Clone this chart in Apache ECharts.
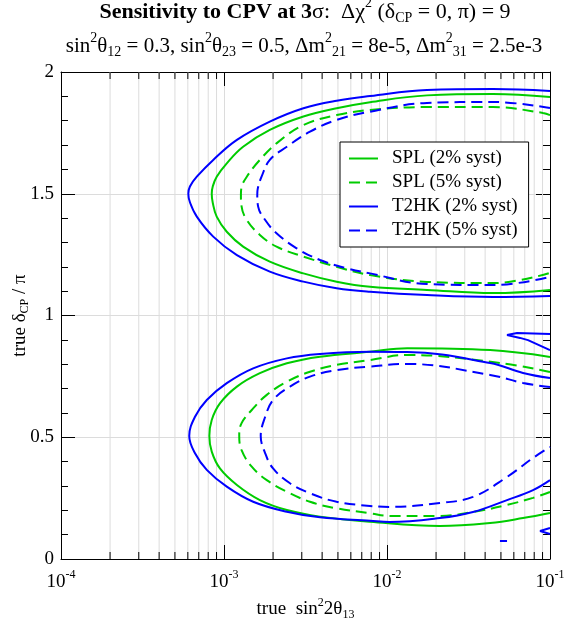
<!DOCTYPE html>
<html><head><meta charset="utf-8">
<script src="https://cdn.jsdelivr.net/npm/echarts@6/dist/echarts.min.js"></script>
<style>html,body{margin:0;padding:0;background:#fff}#c{width:567px;height:626px}</style>
</head><body><div id="c"></div><script>
// ---- data (x = sin^2 2theta13, y = delta_CP / pi) ----
const legendNames = ['SPL (2% syst)', 'SPL (5% syst)', 'T2HK (2% syst)', 'T2HK (5% syst)'];
const yTicks = [0, 0.5, 1, 1.5, 2];
const xMinorTicks = [2e-4,3e-4,4e-4,5e-4,6e-4,7e-4,8e-4,9e-4,
                     2e-3,3e-3,4e-3,5e-3,6e-3,7e-3,8e-3,9e-3,
                     2e-2,3e-2,4e-2,5e-2,6e-2,7e-2,8e-2,9e-2];

const splUpper2 = [[0.1,1.897],[0.0447,1.910],[0.0176,1.904],[7.87e-3,1.876],[4.91e-3,1.851],[3.07e-3,1.817],[1.91e-3,1.762],[1.31e-3,1.693],[1.04e-3,1.625],[9.02e-4,1.570],[8.53e-4,1.530],[8.41e-4,1.500],[8.53e-4,1.463],[9.02e-4,1.406],[1.04e-3,1.344],[1.31e-3,1.283],[1.91e-3,1.221],[3.07e-3,1.173],[4.91e-3,1.139],[7.87e-3,1.118],[0.0176,1.105],[0.0447,1.092],[0.1,1.105]];
const splLower2 = [[0.1,0.830],[0.0429,0.858],[0.0133,0.866],[7.87e-3,0.851],[3.88e-3,0.831],[2.43e-3,0.804],[1.66e-3,0.763],[1.20e-3,0.708],[9.44e-4,0.639],[8.41e-4,0.571],[8.13e-4,0.505],[8.41e-4,0.441],[9.44e-4,0.372],[1.20e-3,0.304],[1.66e-3,0.242],[2.43e-3,0.201],[3.88e-3,0.174],[7.87e-3,0.153],[0.0211,0.136],[0.0429,0.148],[0.0683,0.168],[0.1,0.189]];
const splUpper5 = [[0.1,1.823],[0.0906,1.832],[0.0447,1.856],[0.0176,1.856],[7.87e-3,1.844],[4.91e-3,1.823],[3.07e-3,1.782],[2.10e-3,1.707],[1.66e-3,1.639],[1.38e-3,1.570],[1.28e-3,1.525],[1.27e-3,1.497],[1.28e-3,1.450],[1.38e-3,1.392],[1.66e-3,1.331],[2.10e-3,1.283],[3.07e-3,1.242],[4.91e-3,1.200],[7.87e-3,1.166],[0.0176,1.138],[0.0447,1.133],[0.1,1.175]];
const splLower5 = [[0.1,0.768],[0.0493,0.805],[0.0133,0.838],[7.87e-3,0.817],[4.91e-3,0.797],[3.37e-3,0.769],[2.43e-3,0.728],[1.83e-3,0.674],[1.48e-3,0.612],[1.28e-3,0.557],[1.24e-3,0.505],[1.28e-3,0.448],[1.48e-3,0.379],[1.83e-3,0.324],[2.43e-3,0.276],[3.37e-3,0.235],[4.91e-3,0.208],[7.87e-3,0.188],[0.0104,0.177],[0.0211,0.177],[0.0337,0.193],[0.0545,0.222],[0.0787,0.251],[0.1,0.275]];
const t2hkUpper2 = [[0.1,1.922],[0.0447,1.930],[0.0176,1.926],[7.87e-3,1.901],[4.91e-3,1.882],[3.07e-3,1.851],[1.91e-3,1.796],[1.20e-3,1.721],[8.59e-4,1.639],[6.81e-4,1.570],[6.18e-4,1.530],[6.04e-4,1.500],[6.18e-4,1.465],[6.81e-4,1.406],[8.59e-4,1.324],[1.20e-3,1.248],[1.91e-3,1.180],[3.07e-3,1.139],[4.91e-3,1.112],[7.87e-3,1.098],[0.0176,1.084],[0.0447,1.076],[0.1,1.080]];
const t2hkLower2 = [[0.1,0.743],[0.0683,0.764],[0.0429,0.805],[0.0133,0.850],[7.87e-3,0.851],[3.88e-3,0.842],[2.43e-3,0.824],[1.51e-3,0.783],[1.04e-3,0.722],[7.84e-4,0.653],[6.64e-4,0.584],[6.12e-4,0.505],[6.64e-4,0.434],[7.84e-4,0.366],[1.04e-3,0.297],[1.51e-3,0.235],[2.43e-3,0.194],[3.88e-3,0.171],[7.87e-3,0.157],[0.0104,0.152],[0.0211,0.168],[0.0337,0.193],[0.0545,0.242],[0.0787,0.283],[0.1,0.324]];
const t2hkIsland1 = [[0.1,0.924],[0.0628,0.928],[0.0545,0.920],[0.0655,0.908],[0.0733,0.899],[0.1,0.858]];
const t2hkIsland2 = [[0.1,0.127],[0.0869,0.115],[0.1,0.103]];
const t2hkIsland3 = [[0.0493,0.074],[0.0545,0.074]];
const t2hkUpper5 = [[0.1,1.852],[0.0447,1.877],[0.0176,1.873],[7.87e-3,1.837],[4.91e-3,1.803],[3.37e-3,1.755],[2.43e-3,1.693],[1.91e-3,1.639],[1.70e-3,1.570],[1.61e-3,1.520],[1.60e-3,1.497],[1.62e-3,1.447],[1.79e-3,1.392],[2.10e-3,1.338],[2.79e-3,1.276],[3.88e-3,1.228],[5.66e-3,1.194],[7.87e-3,1.173],[0.0176,1.129],[0.0447,1.125],[0.1,1.158]];
const t2hkLower5 = [[0.1,0.706],[0.0683,0.723],[0.0429,0.756],[0.0133,0.801],[7.87e-3,0.790],[4.91e-3,0.776],[3.37e-3,0.749],[2.54e-3,0.708],[2.00e-3,0.653],[1.79e-3,0.584],[1.68e-3,0.505],[1.79e-3,0.434],[2.00e-3,0.372],[2.54e-3,0.311],[3.37e-3,0.270],[4.91e-3,0.235],[7.87e-3,0.218],[0.0104,0.214],[0.0211,0.230],[0.0337,0.255],[0.0545,0.337],[0.0787,0.415],[0.1,0.460]];

// ---- styling ----
const F = 'Liberation Serif';
const GREEN = '#00cc00', BLUE = '#0000ff';
const DASH = [11, 6];
function richSet(size, ratio) {
  const s = Math.round(size * (ratio || 0.65));
  return {
    n: {fontFamily: F, fontSize: size, color: '#000'},
    b: {fontFamily: F, fontSize: size, color: '#000', fontWeight: 'bold'},
    sup: {fontFamily: F, fontSize: s, color: '#000', padding: [0, 0, Math.round(size * 0.75), 0]},
    sub: {fontFamily: F, fontSize: s, color: '#000', padding: [Math.round(size * 0.55), 0, 0, 0]}
  };
}
const chart = echarts.init(document.getElementById('c'), null, {renderer: 'canvas'});

function lineSeries(name, data, color, dashed, smooth) {
  return {
    name: name, type: 'line', data: data, xAxisIndex: 0, yAxisIndex: 0,
    showSymbol: false, symbol: 'none', smooth: smooth === undefined ? 0.4 : smooth,
    lineStyle: {color: color, width: 2, type: dashed ? DASH : 'solid'},
    itemStyle: {color: color}, z: 5, silent: true
  };
}

const minorTickSeries = {
  type: 'custom', xAxisIndex: 0, yAxisIndex: 0, silent: true, z: 1,
  data: xMinorTicks.map(v => [v, 0]),
  encode: {x: 0, y: 1},
  renderItem: function (params, api) {
    const v = api.value(0);
    const b = api.coord([v, yTicks[0]]);
    const t = api.coord([v, yTicks[yTicks.length - 1]]);
    return {type: 'group', children: [
      {type: 'line', shape: {x1: b[0], y1: b[1], x2: t[0], y2: t[1]}, style: {stroke: '#dcdcdc', lineWidth: 1}},
      {type: 'line', shape: {x1: b[0], y1: b[1], x2: b[0], y2: b[1] - 7}, style: {stroke: '#000', lineWidth: 1}},
      {type: 'line', shape: {x1: t[0], y1: t[1], x2: t[0], y2: t[1] + 7}, style: {stroke: '#000', lineWidth: 1}}
    ]};
  }
};

const option = {
  animation: false,
  backgroundColor: '#fff',
  grid: {left: 61, right: 17, top: 72, bottom: 67, containLabel: false, outerBoundsMode: 'none'},
  graphic: [
    {type: 'text', x: 305, y: 12, silent: true, style: {
      text: '{b|Sensitivity to CPV at 3}{n|σ:  Δχ}{sup|2}{n| (δ}{sub|CP}{n| = 0, π) = 9}',
      rich: richSet(22, 0.64), align: 'center', verticalAlign: 'middle'}},
    {type: 'text', x: 304, y: 46, silent: true, style: {
      text: '{n|sin}{sup|2}{n|θ}{sub|12}{n| = 0.3, sin}{sup|2}{n|θ}{sub|23}{n| = 0.5, Δm}{sup|2}{sub|21}{n| = 8e-5, Δm}{sup|2}{sub|31}{n| = 2.5e-3}',
      rich: richSet(21, 0.67), align: 'center', verticalAlign: 'middle'}}
  ],
  legend: {
    data: legendNames, orient: 'vertical', left: 340, top: 142,
    itemWidth: 29, itemHeight: 14, itemGap: 5,
    padding: [7, 11, 7, 8], backgroundColor: '#fff', borderColor: '#000', borderWidth: 1, borderRadius: 0,
    textStyle: {fontFamily: F, fontSize: 19, color: '#000', padding: [0, 0, 0, 9]},
    itemStyle: {opacity: 0, color: 'rgba(0,0,0,0)', borderWidth: 0},
    lineStyle: {width: 2}, selectedMode: false, z: 10
  },
  xAxis: [{
    type: 'log', logBase: 10, min: 1e-4, max: 1e-1, position: 'bottom',
    axisLine: {show: true, onZero: false, lineStyle: {color: '#000', width: 1}},
    axisTick: {show: true, inside: true, length: 14, lineStyle: {color: '#000'}},
    splitLine: {show: true, lineStyle: {color: '#dcdcdc', width: 1}},
    axisLabel: {
      margin: 10, color: '#000',
      formatter: function (v) { return '{n|10}{sup|' + Math.round(Math.log10(v)) + '}'; },
      rich: richSet(19)
    },
    name: '{n|true  sin}{sup|2}{n|2θ}{sub|13}', nameLocation: 'middle', nameGap: 30,
    nameTextStyle: {rich: richSet(19)}
  }, {
    type: 'log', logBase: 10, min: 1e-4, max: 1e-1, position: 'top',
    axisLine: {show: true, onZero: false, lineStyle: {color: '#000', width: 1}},
    axisTick: {show: true, inside: true, length: 14, lineStyle: {color: '#000'}},
    splitLine: {show: false}, axisLabel: {show: false}
  }],
  yAxis: [{
    type: 'value', min: yTicks[0], max: yTicks[yTicks.length - 1], interval: 0.5, position: 'left',
    axisLine: {show: true, onZero: false, lineStyle: {color: '#000', width: 1}},
    axisTick: {show: true, inside: true, length: 14, lineStyle: {color: '#000'}},
    minorTick: {show: true, splitNumber: 5, length: 7, lineStyle: {color: '#000'}},
    splitLine: {show: true, lineStyle: {color: '#dcdcdc', width: 1}},
    axisLabel: {margin: 7, color: '#000', fontFamily: F, fontSize: 19},
    name: '{n|true δ}{sub|CP}{n| / π}', nameLocation: 'middle', nameGap: 30, nameRotate: 90,
    nameMoveOverlap: false,
    nameTextStyle: {rich: richSet(19)}
  }, {
    type: 'value', min: yTicks[0], max: yTicks[yTicks.length - 1], interval: 0.5, position: 'right',
    axisLine: {show: true, onZero: false, lineStyle: {color: '#000', width: 1}},
    axisTick: {show: true, inside: true, length: 14, lineStyle: {color: '#000'}},
    minorTick: {show: true, splitNumber: 5, length: 7, lineStyle: {color: '#000'}},
    splitLine: {show: false}, axisLabel: {show: false}
  }],
  series: [
    minorTickSeries,
    lineSeries(legendNames[0], splUpper2, GREEN, false),
    lineSeries(legendNames[0], splLower2, GREEN, false),
    lineSeries(legendNames[1], splUpper5, GREEN, true),
    lineSeries(legendNames[1], splLower5, GREEN, true),
    lineSeries(legendNames[2], t2hkUpper2, BLUE, false),
    lineSeries(legendNames[2], t2hkLower2, BLUE, false),
    lineSeries(legendNames[2], t2hkIsland1, BLUE, false, false),
    lineSeries(legendNames[2], t2hkIsland2, BLUE, false, false),
    lineSeries(legendNames[2], t2hkIsland3, BLUE, false, false),
    lineSeries(legendNames[3], t2hkUpper5, BLUE, true),
    lineSeries(legendNames[3], t2hkLower5, BLUE, true)
  ]
};
chart.setOption(option);
</script></body></html>
